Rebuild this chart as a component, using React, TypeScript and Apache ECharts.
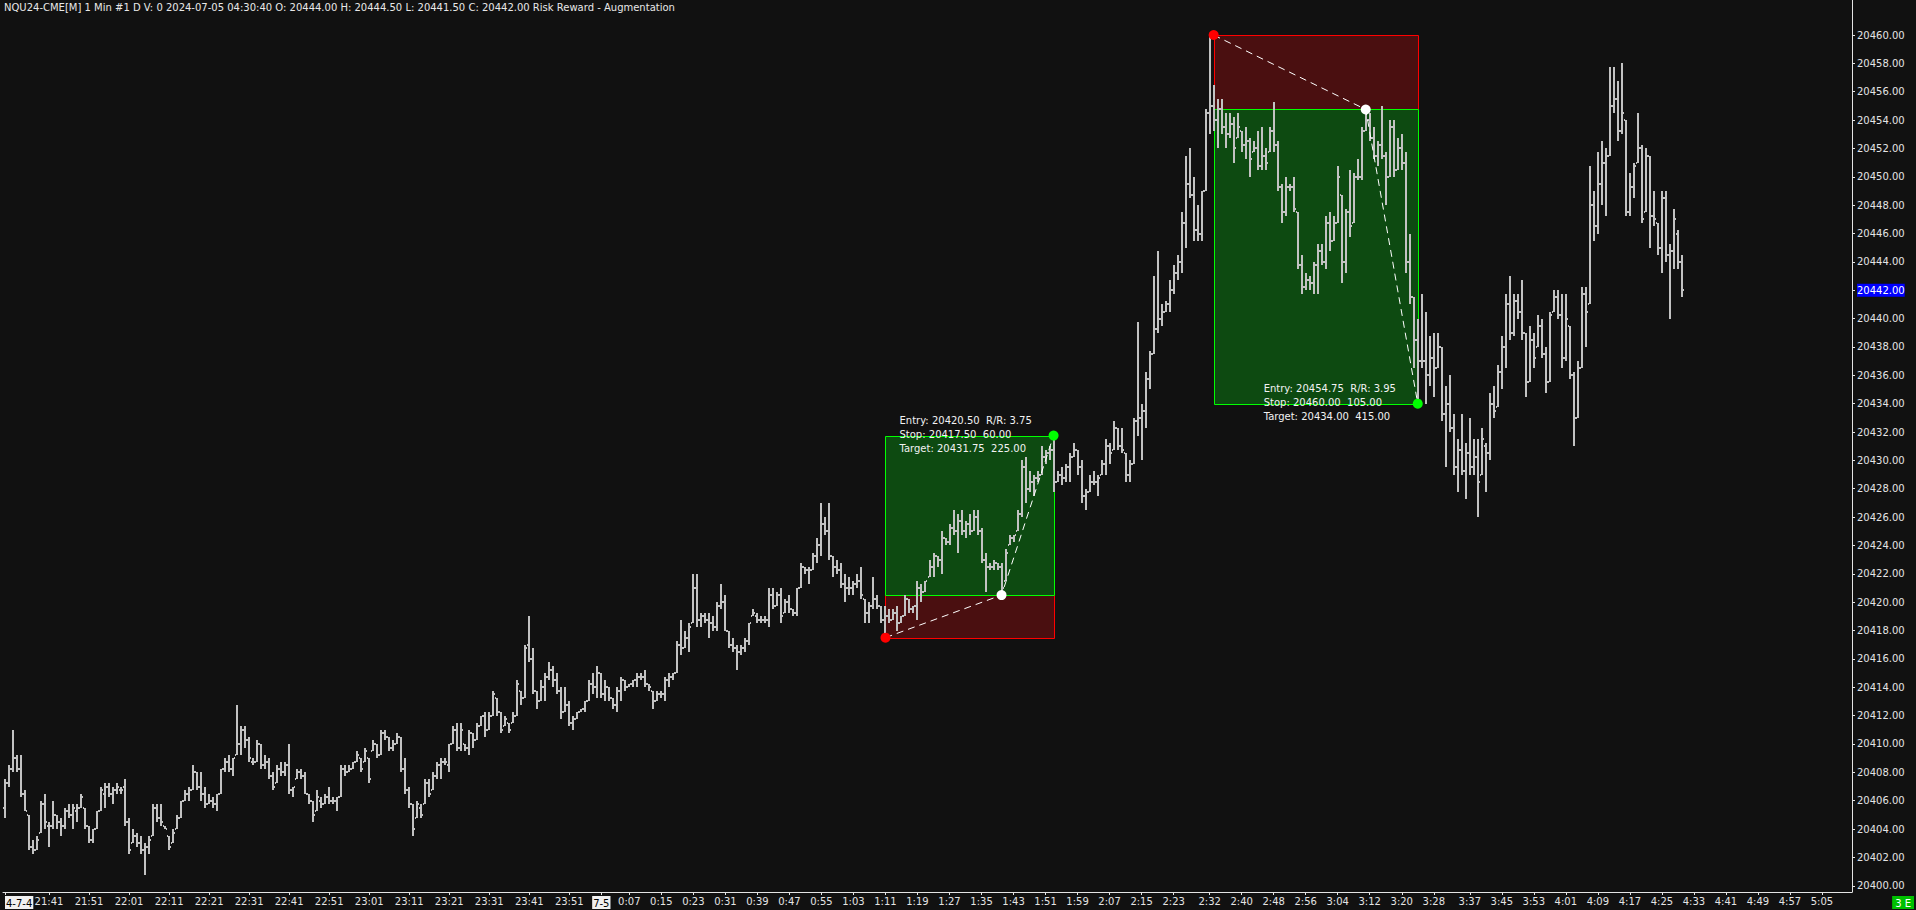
import React, { useEffect, useRef } from "react";
import * as echarts from "echarts";

const TITLE =
  "NQU24-CME[M] 1 Min #1 D V: 0 2024-07-05 04:30:40 O: 20444.00 H: 20444.50 L: 20441.50 C: 20442.00 Risk Reward - Augmentation";

// [open, high, low, close] — 1 minute bars from 21:30
const bars2130: number[][] = [
  [20405.5, 20407.5, 20404.75, 20407.25], [20407.25, 20408.5, 20407.0, 20408.25], [20408.25, 20411.0, 20408.0, 20409.0],
  [20409.0, 20409.25, 20408.0, 20408.25], [20408.25, 20409.25, 20406.25, 20406.5], [20406.5, 20406.75, 20405.25, 20405.25],
  [20405.0, 20405.0, 20402.5, 20402.75], [20402.75, 20403.25, 20402.25, 20402.5], [20402.5, 20403.5, 20402.5, 20403.25],
  [20403.75, 20406.0, 20403.75, 20405.75], [20405.75, 20406.5, 20404.0, 20404.5], [20404.25, 20404.5, 20402.75, 20404.25],
  [20404.25, 20406.0, 20404.0, 20405.0], [20405.0, 20405.0, 20404.0, 20404.5], [20404.5, 20404.75, 20403.5, 20404.25],
  [20404.25, 20405.5, 20404.0, 20405.25], [20405.25, 20405.75, 20404.75, 20405.0], [20405.0, 20405.75, 20404.0, 20405.5],
  [20405.25, 20405.75, 20404.5, 20405.5], [20405.5, 20406.5, 20405.5, 20406.25], [20405.5, 20405.5, 20404.0, 20404.25],
  [20404.25, 20404.25, 20403.0, 20403.25], [20403.25, 20404.0, 20403.0, 20404.0], [20404.0, 20405.25, 20404.0, 20405.25],
  [20405.25, 20407.0, 20405.25, 20406.75], [20406.5, 20407.25, 20405.5, 20407.0], [20407.0, 20407.25, 20406.25, 20406.5],
  [20406.5, 20407.0, 20405.75, 20406.75], [20406.75, 20407.25, 20406.5, 20407.0], [20406.75, 20407.0, 20406.5, 20406.75],
  [20407.0, 20407.5, 20404.25, 20404.5], [20404.5, 20404.75, 20402.25, 20402.5], [20403.0, 20404.0, 20403.0, 20403.5],
  [20403.5, 20403.75, 20402.75, 20403.0], [20403.0, 20403.5, 20402.25, 20402.5], [20402.5, 20403.0, 20400.75, 20402.75],
  [20402.75, 20403.5, 20402.25, 20403.25], [20403.5, 20405.75, 20403.5, 20405.5], [20405.5, 20405.75, 20404.5, 20404.75],
  [20404.75, 20405.75, 20404.25, 20404.5], [20404.25, 20404.25, 20404.0, 20404.0], [20403.5, 20403.5, 20402.5, 20402.75],
  [20403.0, 20404.0, 20403.0, 20403.75], [20404.0, 20405.0, 20404.0, 20404.75], [20404.75, 20406.0, 20404.75, 20406.0],
  [20406.0, 20406.75, 20406.0, 20406.5], [20406.5, 20407.0, 20406.0, 20406.75], [20406.75, 20408.5, 20406.75, 20408.0],
  [20408.0, 20408.0, 20406.75, 20407.0], [20407.0, 20408.0, 20406.0, 20406.5], [20406.5, 20407.0, 20405.5, 20405.75],
  [20405.75, 20406.5, 20405.75, 20406.0], [20406.0, 20406.25, 20405.5, 20405.75], [20405.75, 20406.5, 20405.25, 20406.5],
  [20406.5, 20408.25, 20406.5, 20408.25], [20408.25, 20409.0, 20408.0, 20408.75], [20408.75, 20409.25, 20408.0, 20408.25],
  [20408.25, 20409.0, 20407.75, 20409.0], [20409.25, 20412.75, 20409.25, 20410.0], [20410.0, 20411.25, 20409.25, 20411.0],
  [20411.0, 20411.25, 20409.75, 20410.25], [20410.25, 20410.5, 20408.75, 20409.0], [20408.75, 20409.0, 20408.5, 20408.75],
  [20408.75, 20410.25, 20408.75, 20410.0], [20410.0, 20410.0, 20408.25, 20408.5], [20408.5, 20409.25, 20408.25, 20408.75],
  [20408.75, 20409.0, 20407.5, 20407.75], [20407.75, 20408.0, 20406.75, 20407.0], [20407.25, 20408.5, 20407.25, 20408.25],
  [20408.25, 20408.75, 20407.75, 20408.0], [20408.0, 20408.75, 20407.75, 20408.5], [20408.5, 20410.0, 20406.5, 20406.75],
  [20406.75, 20407.0, 20406.25, 20407.0], [20407.5, 20408.25, 20407.5, 20408.0], [20408.0, 20408.25, 20407.5, 20407.75],
  [20407.75, 20408.0, 20406.5, 20406.5], [20406.5, 20406.5, 20405.75, 20406.0], [20406.0, 20406.0, 20404.5, 20405.0],
  [20405.25, 20406.75, 20405.25, 20406.25], [20406.0, 20406.25, 20405.5, 20405.75], [20405.75, 20406.5, 20405.75, 20406.25],
  [20406.25, 20407.0, 20405.75, 20406.0], [20406.0, 20406.25, 20405.75, 20406.0], [20406.0, 20406.25, 20405.25, 20406.25],
  [20406.25, 20408.5, 20406.25, 20408.25], [20408.25, 20408.5, 20407.75, 20408.0], [20408.0, 20408.5, 20408.0, 20408.25],
  [20408.25, 20408.75, 20408.25, 20408.75], [20408.75, 20409.5, 20408.75, 20409.25], [20409.0, 20409.0, 20408.0, 20408.25],
  [20408.75, 20409.75, 20408.75, 20409.5], [20409.0, 20409.0, 20407.25, 20407.5], [20409.5, 20410.25, 20409.5, 20410.0],
  [20410.0, 20410.0, 20409.0, 20409.25], [20409.25, 20411.0, 20409.25, 20410.75], [20410.75, 20411.0, 20410.25, 20410.5],
  [20410.5, 20410.5, 20409.5, 20409.75], [20409.75, 20410.25, 20409.5, 20410.0], [20410.0, 20410.75, 20410.0, 20410.5],
  [20410.5, 20410.5, 20408.0, 20408.25], [20408.25, 20409.0, 20406.5, 20406.75], [20406.75, 20407.0, 20405.5, 20405.75],
  [20405.75, 20405.75, 20403.5, 20404.0], [20404.75, 20406.0, 20404.75, 20405.75], [20405.5, 20405.75, 20404.75, 20405.0],
];

// from 23:15
const bars2315: number[][] = [
  [20405.75, 20407.5, 20405.75, 20407.25], [20407.25, 20407.5, 20406.25, 20406.5], [20406.75, 20408.0, 20406.75, 20407.75],
  [20407.75, 20408.75, 20407.5, 20408.5], [20408.5, 20409.0, 20407.5, 20408.75], [20408.75, 20409.0, 20408.5, 20408.75],
  [20408.5, 20410.0, 20408.0, 20410.0], [20410.0, 20411.25, 20410.0, 20411.0], [20411.0, 20411.5, 20409.5, 20409.75],
  [20409.75, 20411.5, 20409.5, 20411.0], [20410.0, 20410.0, 20409.5, 20409.75], [20409.75, 20411.0, 20409.25, 20410.75],
  [20410.75, 20410.75, 20409.75, 20410.25], [20410.25, 20411.5, 20410.25, 20411.25], [20411.25, 20412.0, 20411.25, 20412.0],
  [20412.0, 20412.25, 20410.5, 20411.0], [20411.0, 20412.25, 20411.0, 20412.0], [20412.0, 20413.75, 20412.0, 20413.5],
  [20413.25, 20413.25, 20412.0, 20412.25], [20412.25, 20412.25, 20410.75, 20411.0], [20411.25, 20412.0, 20411.25, 20411.75],
  [20411.5, 20411.5, 20410.75, 20411.0], [20411.5, 20412.25, 20411.5, 20412.0], [20412.0, 20414.5, 20412.0, 20414.25],
  [20413.75, 20413.75, 20412.75, 20413.25], [20413.25, 20417.0, 20413.25, 20416.75], [20417.0, 20419.0, 20415.75, 20416.0],
  [20416.0, 20416.75, 20413.5, 20413.75], [20413.75, 20413.75, 20412.5, 20413.0], [20413.0, 20414.5, 20413.0, 20414.0],
  [20414.0, 20415.0, 20413.0, 20414.75], [20414.75, 20415.75, 20414.5, 20415.25], [20415.25, 20415.5, 20414.0, 20414.5],
  [20414.5, 20415.0, 20413.5, 20413.75], [20413.75, 20414.0, 20411.75, 20412.25], [20412.25, 20414.0, 20412.25, 20412.75],
  [20412.75, 20413.0, 20411.25, 20411.5], [20411.5, 20412.0, 20411.0, 20411.75], [20411.75, 20412.25, 20411.75, 20412.25],
  [20412.25, 20412.5, 20412.25, 20412.5], [20412.5, 20413.0, 20412.25, 20413.0], [20413.0, 20414.5, 20413.0, 20414.25],
  [20414.25, 20415.0, 20413.5, 20414.0], [20414.0, 20415.5, 20413.25, 20415.0], [20415.0, 20415.0, 20413.25, 20413.5],
  [20413.5, 20414.5, 20413.0, 20414.0], [20414.0, 20414.0, 20413.0, 20413.25], [20413.25, 20413.25, 20412.5, 20412.75],
  [20412.75, 20414.0, 20412.25, 20413.75], [20413.75, 20414.75, 20413.0, 20414.5], [20414.5, 20414.5, 20413.75, 20414.0],
  [20414.0, 20414.25, 20414.0, 20414.25], [20414.25, 20414.5, 20414.0, 20414.5], [20414.5, 20415.0, 20414.0, 20414.75],
  [20414.75, 20415.0, 20414.5, 20414.75], [20414.75, 20415.25, 20414.0, 20414.25], [20414.25, 20414.25, 20413.75, 20414.0],
  [20413.75, 20413.75, 20412.5, 20413.0], [20413.0, 20413.75, 20413.0, 20413.5], [20413.5, 20413.75, 20413.25, 20413.5],
  [20413.5, 20414.75, 20413.0, 20414.5], [20414.5, 20415.0, 20414.0, 20414.75], [20414.75, 20415.0, 20414.5, 20415.0],
  [20415.0, 20417.25, 20415.0, 20417.0], [20417.0, 20418.75, 20416.25, 20416.75], [20416.75, 20418.0, 20416.75, 20417.5],
  [20417.5, 20418.5, 20416.5, 20418.25], [20418.5, 20422.0, 20418.5, 20421.0], [20421.0, 20422.0, 20418.25, 20418.75],
  [20418.75, 20419.25, 20418.25, 20419.0], [20419.0, 20419.25, 20418.5, 20418.75], [20418.75, 20419.25, 20417.5, 20418.5],
  [20418.5, 20419.0, 20418.0, 20418.25], [20418.25, 20420.0, 20418.0, 20419.75], [20419.75, 20421.25, 20419.5, 20420.0],
  [20420.0, 20420.5, 20418.0, 20418.0], [20418.0, 20418.0, 20416.75, 20417.0], [20417.0, 20417.5, 20416.5, 20416.75],
  [20416.75, 20417.0, 20415.25, 20416.5], [20416.5, 20417.0, 20416.25, 20416.75], [20416.75, 20417.5, 20416.5, 20417.25],
  [20417.25, 20418.5, 20417.0, 20418.5], [20419.0, 20419.5, 20419.0, 20419.25], [20419.0, 20419.25, 20418.5, 20418.75],
  [20418.75, 20419.0, 20418.5, 20418.75], [20418.75, 20419.0, 20418.5, 20418.75], [20418.75, 20421.0, 20418.25, 20420.5],
  [20420.5, 20421.0, 20419.5, 20419.75], [20419.75, 20420.75, 20419.75, 20420.5], [20420.5, 20421.0, 20418.5, 20419.0],
  [20419.25, 20420.25, 20419.25, 20420.0], [20420.0, 20420.5, 20419.25, 20419.5], [20419.5, 20419.5, 20419.0, 20419.25],
  [20419.25, 20421.0, 20419.0, 20421.0], [20421.0, 20422.75, 20421.0, 20422.5], [20422.5, 20422.5, 20422.0, 20422.25],
  [20422.25, 20422.5, 20421.25, 20422.25], [20422.25, 20423.5, 20422.25, 20423.25], [20423.25, 20424.5, 20422.75, 20424.0],
  [20424.0, 20427.0, 20423.25, 20425.5], [20425.5, 20426.0, 20424.75, 20425.0], [20425.0, 20427.0, 20423.0, 20423.25],
  [20423.25, 20423.25, 20421.75, 20422.5], [20422.5, 20423.0, 20422.0, 20422.25], [20422.25, 20422.75, 20421.0, 20421.25],
];

// from 1:01
const bars0101: number[][] = [
  [20421.25, 20422.0, 20420.0, 20421.0], [20421.0, 20421.75, 20420.5, 20421.0], [20421.0, 20421.5, 20420.5, 20421.25],
  [20421.25, 20422.0, 20421.0, 20421.5], [20421.5, 20422.5, 20420.25, 20420.5], [20420.25, 20420.25, 20418.5, 20419.25],
  [20419.25, 20420.0, 20418.5, 20419.75], [20419.75, 20421.75, 20419.5, 20420.25], [20420.25, 20420.5, 20419.5, 20419.75],
  [20419.75, 20419.75, 20418.5, 20418.75], [20418.75, 20419.75, 20417.75, 20419.0], [20419.0, 20419.5, 20418.5, 20418.75],
  [20418.75, 20419.5, 20418.75, 20419.25], [20419.25, 20419.75, 20418.0, 20418.5], [20418.5, 20419.0, 20418.5, 20419.0],
  [20419.0, 20420.5, 20419.0, 20420.25], [20420.25, 20420.25, 20419.25, 20419.5], [20419.5, 20419.75, 20419.25, 20419.75],
  [20419.75, 20421.5, 20418.75, 20421.0], [20421.0, 20421.25, 20420.0, 20420.75], [20420.75, 20421.5, 20420.75, 20421.5],
  [20421.75, 20423.0, 20421.75, 20422.5], [20422.5, 20423.5, 20421.75, 20423.25], [20423.25, 20423.25, 20422.5, 20423.0],
  [20423.0, 20425.0, 20422.0, 20424.5], [20424.5, 20424.5, 20424.0, 20424.25], [20424.25, 20425.5, 20424.0, 20425.25],
  [20425.25, 20426.5, 20424.75, 20425.0], [20425.0, 20426.25, 20423.5, 20425.75], [20425.75, 20426.5, 20424.75, 20425.0],
  [20425.0, 20425.75, 20424.5, 20425.5], [20425.5, 20426.25, 20424.75, 20425.0], [20425.0, 20426.5, 20425.0, 20426.0],
  [20426.0, 20426.5, 20424.75, 20425.0], [20425.0, 20425.25, 20422.75, 20423.0], [20423.0, 20423.5, 20420.75, 20422.5],
  [20422.5, 20422.75, 20422.25, 20422.5], [20422.5, 20423.0, 20422.25, 20422.75], [20422.75, 20422.75, 20422.25, 20422.5],
  [20422.5, 20422.75, 20420.5, 20421.0], [20421.5, 20423.75, 20421.5, 20423.5], [20424.0, 20424.75, 20424.0, 20424.5],
  [20424.5, 20424.75, 20424.25, 20424.75], [20425.0, 20426.5, 20425.0, 20426.25], [20426.25, 20430.0, 20426.0, 20429.5],
  [20429.5, 20430.25, 20427.0, 20428.0], [20428.0, 20429.25, 20427.75, 20428.5], [20428.5, 20429.0, 20427.5, 20428.75],
  [20428.75, 20429.25, 20428.5, 20429.0], [20429.0, 20431.0, 20429.0, 20430.25], [20430.25, 20430.75, 20429.75, 20430.5],
  [20430.5, 20431.0, 20430.0, 20430.75], [20430.75, 20431.75, 20427.75, 20428.5], [20428.5, 20429.25, 20428.5, 20429.0],
  [20429.0, 20429.5, 20428.25, 20428.75], [20428.75, 20429.75, 20428.5, 20429.5], [20429.5, 20430.5, 20428.5, 20430.25],
  [20430.25, 20431.25, 20430.25, 20430.75], [20430.75, 20430.75, 20429.0, 20429.5], [20429.5, 20430.0, 20427.0, 20427.5],
  [20427.5, 20428.0, 20426.5, 20427.75], [20427.75, 20429.0, 20427.75, 20428.5], [20428.5, 20429.25, 20428.25, 20428.5],
  [20428.5, 20429.0, 20427.5, 20428.75], [20429.0, 20430.0, 20429.0, 20429.75], [20429.75, 20431.5, 20429.0, 20431.0],
  [20431.0, 20431.25, 20429.75, 20430.5], [20430.75, 20432.75, 20430.75, 20432.25], [20432.25, 20432.25, 20430.75, 20431.0],
  [20431.0, 20432.25, 20430.5, 20430.75], [20430.5, 20430.5, 20428.5, 20429.0], [20429.0, 20430.0, 20428.5, 20429.75],
  [20429.75, 20433.0, 20429.75, 20432.75], [20432.75, 20439.75, 20431.75, 20433.0], [20433.0, 20434.0, 20430.0, 20433.5],
  [20433.5, 20436.25, 20432.25, 20435.75], [20435.75, 20437.75, 20435.0, 20437.5], [20437.5, 20443.0, 20437.5, 20439.25],
  [20439.25, 20444.75, 20439.0, 20440.0], [20440.0, 20441.0, 20439.5, 20440.5], [20440.5, 20441.25, 20440.5, 20441.0],
  [20441.0, 20442.75, 20440.5, 20442.0], [20442.0, 20443.75, 20441.75, 20443.25], [20443.25, 20444.5, 20442.75, 20444.0],
  [20444.0, 20447.5, 20443.25, 20446.75], [20446.75, 20451.5, 20445.0, 20449.5], [20449.5, 20452.0, 20448.5, 20448.75],
  [20448.75, 20450.0, 20445.5, 20446.25], [20446.25, 20448.0, 20445.5, 20446.0], [20446.0, 20449.0, 20445.5, 20449.0],
  [20449.0, 20454.75, 20449.0, 20454.5], [20454.5, 20460.0, 20453.0, 20455.0], [20455.0, 20456.5, 20453.25, 20454.0],
  [20454.0, 20455.5, 20452.0, 20454.75], [20454.75, 20455.5, 20453.0, 20453.5], [20453.5, 20454.5, 20452.0, 20453.0],
  [20453.0, 20454.5, 20452.75, 20453.75], [20453.75, 20454.25, 20451.0, 20452.0], [20452.75, 20454.5, 20452.75, 20453.5],
  [20453.25, 20453.25, 20451.75, 20452.25], [20452.25, 20453.5, 20451.25, 20452.5], [20452.5, 20452.75, 20450.0, 20451.25],
  [20451.75, 20452.5, 20451.75, 20452.0], [20452.0, 20453.25, 20450.5, 20450.75], [20450.75, 20453.5, 20450.5, 20451.5],
];

// from 2:46
const bars0246: number[][] = [
  [20451.5, 20452.0, 20450.5, 20451.0], [20451.75, 20453.5, 20451.75, 20453.25], [20453.25, 20455.25, 20451.75, 20452.25],
  [20452.25, 20452.5, 20449.0, 20449.25], [20449.25, 20449.5, 20446.75, 20447.5], [20447.5, 20450.0, 20447.25, 20449.25],
  [20449.25, 20449.5, 20449.0, 20449.25], [20449.25, 20450.0, 20447.5, 20447.75], [20447.5, 20447.5, 20443.5, 20443.75],
  [20443.75, 20444.5, 20441.75, 20442.25], [20442.25, 20443.25, 20442.0, 20442.75], [20442.75, 20443.0, 20442.0, 20442.5],
  [20442.5, 20444.0, 20441.75, 20443.75], [20443.75, 20445.25, 20441.75, 20444.75], [20444.75, 20445.25, 20443.75, 20444.0],
  [20444.0, 20447.25, 20443.5, 20446.75], [20446.75, 20447.5, 20444.75, 20445.5], [20445.5, 20447.25, 20445.5, 20446.75],
  [20446.75, 20450.75, 20446.75, 20450.0], [20448.75, 20448.75, 20442.5, 20444.0], [20444.0, 20447.75, 20443.25, 20447.5],
  [20447.5, 20450.5, 20445.75, 20446.5], [20446.75, 20450.25, 20446.75, 20450.0], [20450.0, 20451.25, 20449.75, 20450.0],
  [20450.0, 20453.5, 20449.75, 20453.25], [20453.25, 20454.75, 20453.25, 20454.0], [20454.0, 20454.5, 20452.5, 20452.75],
  [20452.75, 20453.5, 20451.25, 20451.5], [20451.5, 20452.5, 20450.75, 20452.25], [20452.25, 20455.0, 20451.25, 20451.5],
  [20451.5, 20451.75, 20448.0, 20450.0], [20450.0, 20454.0, 20450.0, 20453.5], [20453.5, 20454.0, 20450.0, 20450.5],
  [20450.5, 20452.75, 20450.5, 20452.0], [20452.0, 20453.0, 20450.5, 20451.0], [20451.0, 20451.75, 20443.25, 20444.0],
  [20444.0, 20446.0, 20441.0, 20441.5], [20441.5, 20441.5, 20436.5, 20438.5], [20438.5, 20440.0, 20434.0, 20437.0],
  [20437.0, 20441.75, 20436.5, 20437.0], [20437.0, 20440.5, 20434.0, 20436.0], [20436.0, 20438.75, 20435.25, 20437.25],
  [20437.25, 20439.0, 20434.5, 20436.5], [20436.5, 20439.0, 20436.5, 20438.0], [20438.0, 20438.0, 20432.75, 20433.25],
  [20433.25, 20435.25, 20429.5, 20434.0], [20434.0, 20436.0, 20432.0, 20432.25], [20432.25, 20433.25, 20429.0, 20429.5],
  [20429.5, 20431.5, 20427.75, 20430.75], [20430.75, 20433.25, 20429.0, 20429.25], [20429.25, 20431.25, 20427.25, 20430.5],
  [20430.5, 20433.0, 20429.0, 20429.5], [20429.5, 20431.5, 20429.0, 20430.25], [20430.25, 20431.5, 20426.0, 20428.5],
  [20429.0, 20432.25, 20429.0, 20431.5], [20431.0, 20431.25, 20427.75, 20430.5], [20430.5, 20434.75, 20430.0, 20434.0],
  [20434.0, 20435.25, 20433.0, 20433.5], [20433.75, 20436.75, 20433.75, 20436.25], [20436.25, 20438.75, 20435.0, 20438.0],
  [20438.0, 20441.75, 20436.5, 20441.0], [20441.0, 20443.0, 20438.5, 20439.0], [20439.0, 20441.75, 20438.75, 20441.25],
  [20441.25, 20441.75, 20440.0, 20440.5], [20440.5, 20442.75, 20438.5, 20439.0], [20439.0, 20439.0, 20434.5, 20435.5],
  [20435.5, 20439.5, 20435.5, 20438.5], [20438.5, 20439.0, 20436.5, 20437.25], [20438.0, 20440.25, 20438.0, 20439.5],
  [20439.5, 20440.0, 20437.25, 20437.5], [20437.5, 20438.0, 20434.75, 20435.5], [20435.5, 20440.5, 20435.5, 20440.25],
  [20440.5, 20442.0, 20440.5, 20441.5], [20441.5, 20442.0, 20440.0, 20440.25], [20440.25, 20441.75, 20436.5, 20437.25],
  [20437.25, 20441.75, 20437.0, 20440.0], [20439.5, 20439.5, 20435.75, 20436.0], [20436.0, 20436.25, 20431.0, 20433.0],
  [20433.0, 20437.0, 20433.0, 20436.5], [20436.5, 20442.25, 20436.5, 20441.75], [20441.75, 20442.25, 20438.0, 20440.5],
  [20441.0, 20450.75, 20441.0, 20448.0], [20448.0, 20449.0, 20445.5, 20446.5], [20446.5, 20451.75, 20446.0, 20449.5],
  [20449.5, 20452.5, 20448.0, 20451.0], [20451.0, 20452.0, 20447.25, 20451.5], [20451.5, 20457.75, 20451.5, 20455.0],
  [20455.0, 20457.75, 20454.5, 20455.5], [20455.5, 20456.75, 20452.5, 20453.25], [20453.25, 20458.0, 20453.0, 20454.5],
  [20454.0, 20454.0, 20447.25, 20447.5], [20447.5, 20450.25, 20447.25, 20449.25], [20449.25, 20451.0, 20448.5, 20450.75],
  [20451.0, 20454.5, 20451.0, 20452.0], [20452.0, 20452.25, 20446.75, 20447.0], [20447.5, 20452.0, 20447.5, 20451.5],
  [20451.5, 20451.5, 20445.0, 20447.25], [20447.25, 20449.0, 20446.5, 20447.0], [20446.75, 20446.75, 20444.5, 20445.0],
  [20445.0, 20449.0, 20443.25, 20448.5], [20448.5, 20449.0, 20444.0, 20444.5], [20444.5, 20445.25, 20440.0, 20444.75],
  [20444.75, 20447.75, 20443.5, 20447.0], [20446.0, 20446.25, 20443.5, 20444.0], [20444.0, 20444.5, 20441.5, 20442.0],
];

const xTickTimes = [
  "21:30", "21:41", "21:51", "22:01", "22:11", "22:21", "22:31", "22:41", "22:51", "23:01", "23:11", "23:21",
  "23:31", "23:41", "23:51", "0:00", "0:07", "0:15", "0:23", "0:31", "0:39", "0:47", "0:55", "1:03", "1:11",
  "1:19", "1:27", "1:35", "1:43", "1:51", "1:59", "2:07", "2:15", "2:23", "2:32", "2:40", "2:48", "2:56",
  "3:04", "3:12", "3:20", "3:28", "3:37", "3:45", "3:53", "4:01", "4:09", "4:17", "4:25", "4:33", "4:41",
  "4:49", "4:57", "5:05",
];
const dateLabels: Record<string, string> = { "21:30": "4-7-4", "0:00": "7-5" };

const yTickValues = [
  20400, 20402, 20404, 20406, 20408, 20410, 20412, 20414, 20416, 20418, 20420, 20422, 20424, 20426, 20428, 20430,
  20432, 20434, 20436, 20438, 20440, 20442, 20444, 20446, 20448, 20450, 20452, 20454, 20456, 20458, 20460,
];
const lastPrice = 20442.0;
const pointValue = 20;

// Risk/Reward drawings: bar indices and prices
const trades = [
  { startBar: 220, entryBar: 249, endBar: 262, textBar: 224, entry: 20420.5, stop: 20417.5, target: 20431.75 },
  { startBar: 302, entryBar: 340, endBar: 353, textBar: 315, entry: 20454.75, stop: 20460.0, target: 20434.0 },
];

// x-axis slots: 21:30 .. 23:58 then 0:00 .. 5:12
const EVENING_SLOTS = 149;
const TOTAL_SLOTS = 462;
function slotLabel(i: number): string {
  const m = i < EVENING_SLOTS ? 21 * 60 + 30 + i : i - EVENING_SLOTS;
  const h = Math.floor(m / 60);
  const mm = m % 60;
  return `${h}:${mm < 10 ? "0" + mm : mm}`;
}

const BAR_COLOR = "#c2c2c2";
const AXIS_COLOR = "#e4e4e4";
const FONT = '"DejaVu Sans", sans-serif';

export default function App() {
  const ref = useRef<HTMLDivElement>(null);

  useEffect(() => {
    if (!ref.current) return;
    const chart = echarts.init(ref.current, undefined, { renderer: "svg" });

    const categories: string[] = [];
    for (let i = 0; i < TOTAL_SLOTS; i++) categories.push(slotLabel(i));
    const tickSet = new Set(xTickTimes);
    const showTick = (_idx: number, value: string) => tickSet.has(value);

    const allBars = [...bars2130, ...bars2315, ...bars0101, ...bars0246];
    const ohlcData = allBars.map((b, i) => [i, b[0], b[1], b[2], b[3]]);
    const tradeData = trades.map((t) => [t.startBar, t.endBar, t.entryBar, t.textBar, t.entry, t.stop, t.target]);

    const zonesRender = (_p: any, api: any) => {
      const s = api.value(0), e = api.value(1);
      const entry = api.value(4), stop = api.value(5), target = api.value(6);
      const x1 = Math.round(api.coord([s, entry])[0]) + 0.5;
      const x2 = Math.round(api.coord([e, entry])[0]) + 0.5;
      const yE = Math.round(api.coord([s, entry])[1]) + 0.5;
      const yS = Math.round(api.coord([s, stop])[1]) + 0.5;
      const yT = Math.round(api.coord([s, target])[1]) + 0.5;
      return {
        type: "group",
        children: [
          {
            type: "rect",
            shape: { x: x1, y: Math.min(yE, yS), width: x2 - x1, height: Math.abs(yS - yE) },
            style: { fill: "#4a0f10", stroke: "#ff0000", lineWidth: 1 },
          },
          {
            type: "rect",
            shape: { x: x1, y: Math.min(yE, yT), width: x2 - x1, height: Math.abs(yT - yE) },
            style: { fill: "#0d4a11", stroke: "#00ff00", lineWidth: 1 },
          },
        ],
      };
    };

    const marksRender = (_p: any, api: any) => {
      const s = api.value(0), e = api.value(1), eb = api.value(2), tb = api.value(3);
      const entry = api.value(4), stop = api.value(5), target = api.value(6);
      const pS = api.coord([s, stop]);
      const pE = api.coord([eb, entry]);
      const pT = api.coord([e, target]);
      const tx = api.coord([tb, target]);
      const rr = Math.abs(target - entry) / Math.abs(entry - stop);
      const lines = [
        `Entry: ${entry.toFixed(2)}  R/R: ${rr.toFixed(2)}`,
        `Stop: ${stop.toFixed(2)}  ${(Math.abs(entry - stop) * pointValue).toFixed(2)}`,
        `Target: ${target.toFixed(2)}  ${(Math.abs(target - entry) * pointValue).toFixed(2)}`,
      ];
      const offs = [-15, -1, 13];
      return {
        type: "group",
        children: [
          {
            type: "polyline",
            shape: { points: [pS, pE, pT] },
            style: { stroke: "#ffffff", lineWidth: 1, lineDash: [7, 5], fill: null },
          },
          { type: "circle", shape: { cx: pS[0], cy: pS[1], r: 5 }, style: { fill: "#ff0000" } },
          { type: "circle", shape: { cx: pE[0], cy: pE[1], r: 5 }, style: { fill: "#ffffff" } },
          { type: "circle", shape: { cx: pT[0], cy: pT[1], r: 5 }, style: { fill: "#00ff00" } },
          ...lines.map((txt, k) => ({
            type: "text",
            x: tx[0] - 2,
            y: tx[1] + offs[k],
            style: {
              text: txt,
              fill: "#f2f2f2",
              font: `10px ${FONT}`,
              align: "left",
              verticalAlign: "middle",
            },
          })),
        ],
      };
    };

    const ohlcRender = (_p: any, api: any) => {
      const i = api.value(0);
      const o = api.value(1), h = api.value(2), l = api.value(3), c = api.value(4);
      const pH = api.coord([i, h]);
      const pL = api.coord([i, l]);
      const yo = Math.round(api.coord([i, o])[1]);
      const yc = Math.round(api.coord([i, c])[1]);
      const x = Math.round(pH[0]);
      const y1 = Math.round(pH[1]);
      const y2 = Math.max(y1 + 2, Math.round(pL[1]));
      return {
        type: "group",
        children: [
          { type: "rect", shape: { x: x - 1, y: y1, width: 2, height: y2 - y1 }, style: { fill: BAR_COLOR } },
          { type: "rect", shape: { x: x - 2, y: yo - 1, width: 1, height: 2 }, style: { fill: BAR_COLOR } },
          { type: "rect", shape: { x: x + 1, y: yc - 1, width: 1, height: 2 }, style: { fill: BAR_COLOR } },
        ],
      };
    };

    chart.setOption({
      animation: false,
      backgroundColor: "#111111",
      grid: { left: 3, right: 64, top: 0, bottom: 18, containLabel: false },
      xAxis: {
        type: "category",
        data: categories,
        boundaryGap: true,
        axisLine: { show: true, lineStyle: { color: AXIS_COLOR, width: 1 } },
        axisTick: { show: true, interval: showTick, alignWithLabel: true, length: 3, lineStyle: { color: AXIS_COLOR } },
        axisLabel: {
          interval: showTick,
          alignMinLabel: "left",
          color: AXIS_COLOR,
          fontFamily: FONT,
          fontSize: 10,
          margin: 4,
          formatter: (v: string) => (dateLabels[v] ? `{d|${dateLabels[v]}}` : v),
          rich: {
            d: {
              backgroundColor: "#f0f0f0",
              color: "#000000",
              fontFamily: FONT,
              fontSize: 10,
              padding: [2, 1, 1, 1],
            },
          },
        },
        splitLine: { show: false },
      },
      yAxis: {
        type: "value",
        position: "right",
        min: 20399.56,
        max: 20462.47,
        axisLine: { show: true, lineStyle: { color: AXIS_COLOR, width: 1 } },
        axisTick: { show: true, length: 3, customValues: yTickValues, lineStyle: { color: AXIS_COLOR } },
        axisLabel: {
          customValues: yTickValues,
          color: AXIS_COLOR,
          fontFamily: FONT,
          fontSize: 10,
          margin: 5,
          formatter: (v: number) => (v === lastPrice ? `{cur|${v.toFixed(2)}}` : v.toFixed(2)),
          rich: {
            cur: {
              backgroundColor: "#0000ff",
              color: "#ffffff",
              fontFamily: FONT,
              fontSize: 10,
              padding: [2, 0, 1, 0],
            },
          },
        },
        splitLine: { show: false },
      },
      graphic: [
        {
          type: "text",
          left: 4,
          top: 2,
          style: { text: TITLE, fill: "#e8e8e8", font: `10px ${FONT}` },
        },
        {
          type: "text",
          right: 2,
          bottom: 1,
          style: {
            text: "3 E",
            fill: "#ffffff",
            font: `10px ${FONT}`,
            backgroundColor: "#00c000",
            padding: [2, 3, 1, 3],
          },
        },
      ],
      series: [
        {
          type: "custom",
          name: "rrZones",
          renderItem: zonesRender,
          data: tradeData,
          encode: { x: 0, y: 4 },
          silent: true,
          z: 1,
        },
        {
          type: "custom",
          name: "NQU24",
          renderItem: ohlcRender,
          data: ohlcData,
          encode: { x: 0, y: [2, 3] },
          silent: true,
          z: 2,
        },
        {
          type: "custom",
          name: "rrMarks",
          renderItem: marksRender,
          data: tradeData,
          encode: { x: 0, y: 4 },
          silent: true,
          z: 3,
        },
      ],
    });

    return () => chart.dispose();
  }, []);

  return (
    <div
      ref={ref}
      style={{ position: "fixed", left: 0, top: 0, width: 1916, height: 910, background: "#111111" }}
    />
  );
}
